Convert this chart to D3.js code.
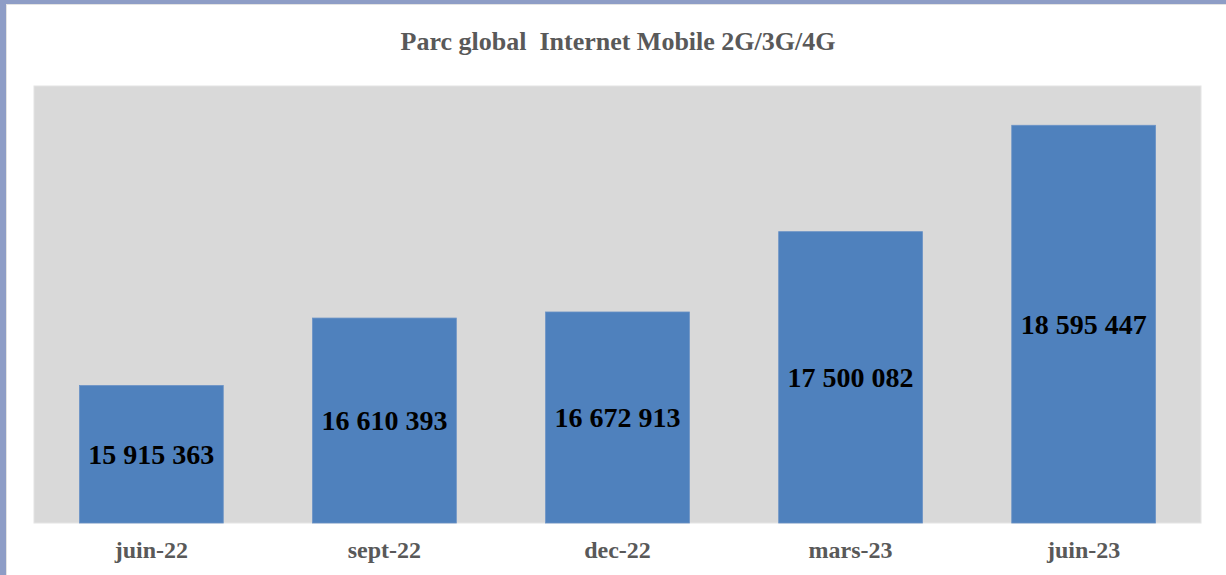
<!DOCTYPE html>
<html>
<head>
<meta charset="utf-8">
<script src="https://cdn.jsdelivr.net/npm/d3@7"></script>
<style>
  body { margin: 0; background: #fff; }
  svg { display: block; }
</style>
</head>
<body>
<svg id="chart"></svg>
<script>
// Data
let categories = ["juin-22", "sept-22", "dec-22", "mars-23", "juin-23"];
let values = [15915363, 16610393, 16672913, 17500082, 18595447];
let title = "Parc global\u00a0 Internet Mobile 2G/3G/4G";

let width = 1226;
let height = 575;

// plot area
let plot = { left: 34, top: 86, right: 1201, bottom: 523 };

let svg = d3.select("#chart").attr("width", width).attr("height", height);

// outer frame
svg.append("rect")
    .attr("x", 0).attr("y", 0)
    .attr("width", width).attr("height", height)
    .attr("fill", "#ffffff");
svg.append("rect")
    .attr("x", 0).attr("y", 0)
    .attr("width", 6).attr("height", height)
    .attr("fill", "#8e9dc6");
svg.append("rect")
    .attr("x", 0).attr("y", 0)
    .attr("width", width).attr("height", 4)
    .attr("fill", "#8e9dc6");
svg.append("line")
    .attr("x1", 6.5).attr("x2", 6.5)
    .attr("y1", 4).attr("y2", height)
    .attr("stroke", "#e3e3e3");
svg.append("line")
    .attr("x1", 6).attr("x2", width)
    .attr("y1", 4.5).attr("y2", 4.5)
    .attr("stroke", "#e3e3e3");

// plot background
svg.append("rect")
    .attr("x", plot.left).attr("y", plot.top)
    .attr("width", plot.right - plot.left)
    .attr("height", plot.bottom - plot.top)
    .attr("fill", "#d9d9d9")
    .attr("stroke", "#e4e4e4")
    .attr("stroke-width", 1);

let x = d3.scaleBand()
    .domain(categories)
    .range([plot.left, plot.right])
    .paddingInner(0.383)
    .paddingOuter(0.195);

let y = d3.scaleLinear()
    .domain([14500000, 19000000])
    .range([plot.bottom, plot.top]);

let fmt = (v) => d3.format(",")(v).replace(/,/g, " ");

svg.append("g")
    .selectAll("rect")
    .data(values)
    .join("rect")
    .attr("x", (d, i) => x(categories[i]))
    .attr("y", (d) => y(d))
    .attr("width", x.bandwidth())
    .attr("height", (d) => plot.bottom - y(d))
    .attr("fill", "#4f81bd")
    .attr("stroke", "#6a92c6")
    .attr("stroke-width", 0.8);

// value labels
svg.append("g")
    .selectAll("text")
    .data(values)
    .join("text")
    .attr("x", (d, i) => x(categories[i]) + x.bandwidth() / 2)
    .attr("y", (d) => (y(d) + plot.bottom) / 2)
    .attr("dy", "0.35em")
    .attr("text-anchor", "middle")
    .style("font-family", "'Liberation Serif', 'Times New Roman', serif")
    .style("font-weight", "bold")
    .style("font-size", "28px")
    .style("fill", "#000")
    .text((d) => fmt(d));

// category axis
let xAxis = svg.append("g")
    .attr("transform", `translate(0,${plot.bottom})`)
    .call(d3.axisBottom(x).tickSize(0).tickPadding(18));
xAxis.select(".domain").remove();
xAxis.selectAll("text")
    .style("font-family", "'Liberation Serif', 'Times New Roman', serif")
    .style("font-weight", "bold")
    .style("font-size", "24px")
    .style("fill", "#595959");

// title
svg.append("text")
    .attr("x", 618)
    .attr("y", 50)
    .attr("text-anchor", "middle")
    .style("font-family", "'Liberation Serif', 'Times New Roman', serif")
    .style("font-weight", "bold")
    .style("font-size", "26px")
    .style("fill", "#595959")
    .text(title);
</script>
</body>
</html>
